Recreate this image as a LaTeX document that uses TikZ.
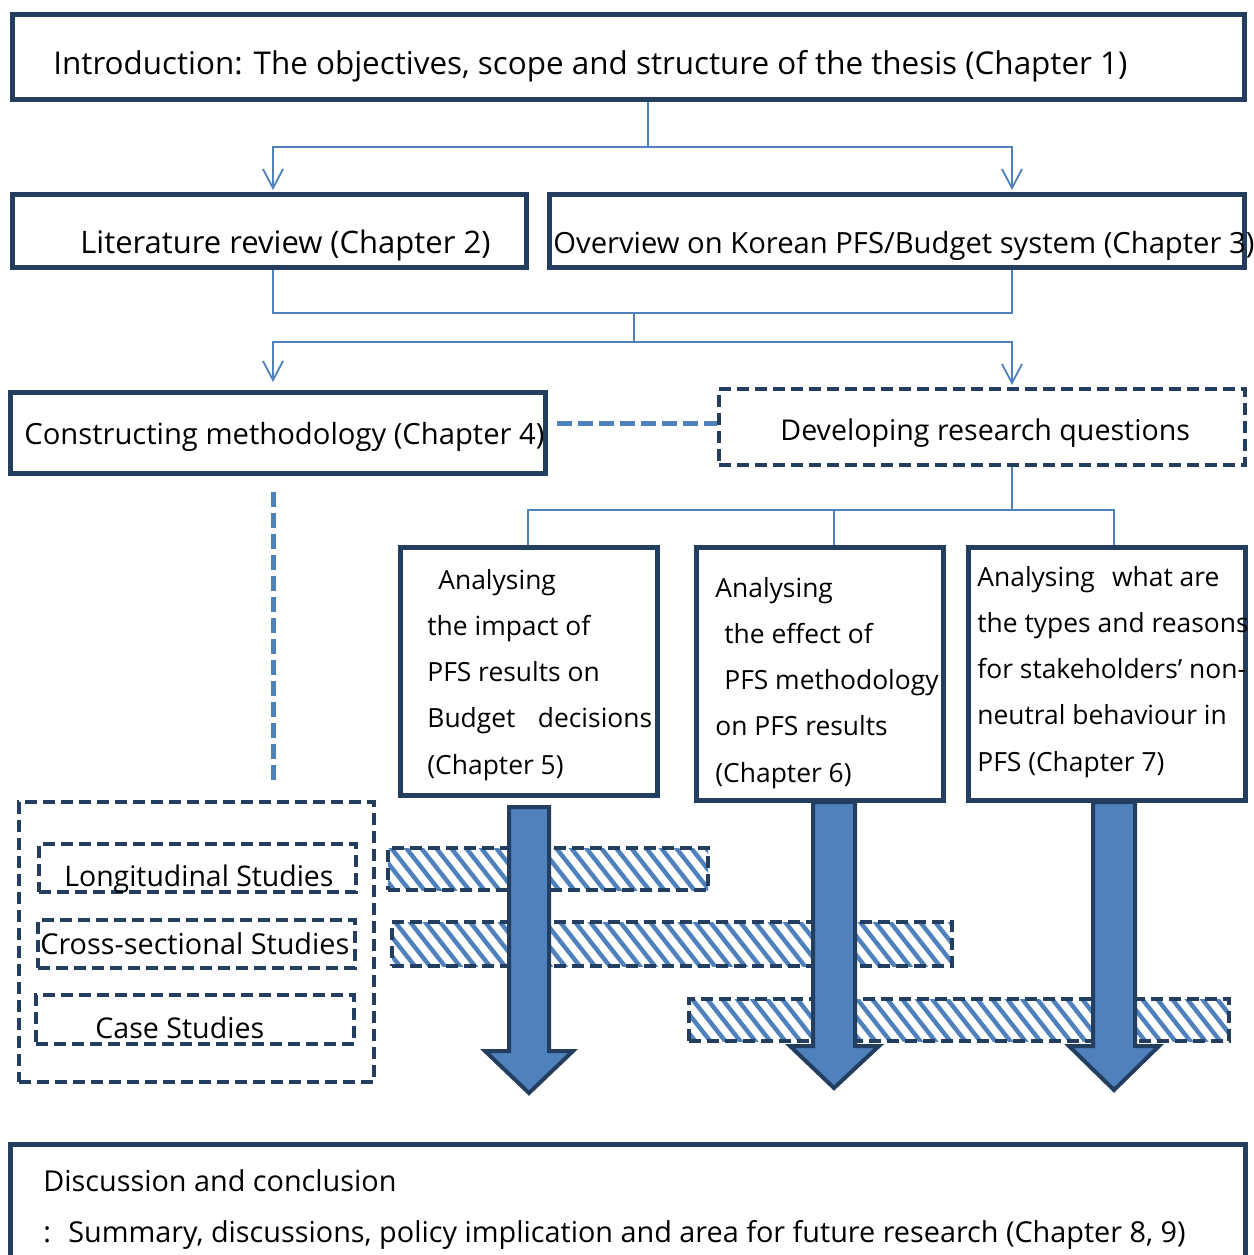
\documentclass[tikz,border=0pt]{standalone}
\usepackage{fontspec}
\setmainfont{Open Sans}
\usetikzlibrary{arrows.meta,calc,fit}
\definecolor{navy}{RGB}{36,62,96}
\definecolor{office}{RGB}{79,129,189}
\begin{document}
\begin{tikzpicture}[x=0.5pt,y=-0.5pt,
  box/.style={draw=navy,line width=2.5pt,fill=white,inner sep=0pt},
  dbox/.style={draw=navy,line width=2pt,dash pattern=on 6pt off 3pt,inner sep=0pt},
  conn/.style={draw=office,line width=0.9pt},
  tip/.style={-{Straight Barb[length=9.5pt,width=10pt,line width=0.9pt]}},
  link/.style={draw=office,line width=2.5pt,dash pattern=on 7.5pt off 3pt},
  txt/.style={anchor=base west,inner sep=0pt,align=left,
    font=\fontsize{#1}{23.1}\selectfont},
  txt/.default=15,
  bigarrow/.style={draw=navy,line width=2pt,fill=office,line join=miter},
  hatch/.style={path picture={
    \foreach \k in {-6,...,40}
      \draw[office,solid,line width=2.2pt]
        ($(path picture bounding box.north west)+(\k*15,-4)$) -- ++(44,56);
  }},
]
\clip (0,0) rectangle (1254,1255);
\fill[white] (0,0) rectangle (1254,1255);

% --- top level boxes ---
\node[box,fit={(12.5,14.5) (1244.5,99.5)}] (intro) {};
\node[txt=15.7] (introtxt) at (53,74) {Introduction: The objectives, scope and structure of the thesis (Chapter 1)};

\node[box,fit={(12.5,194.5) (526.5,267.5)}] (lit) {};
\node[txt=15.5] (littxt) at (80,253) {Literature review (Chapter 2)};
\node[box,fit={(549.5,194.5) (1244.5,267.5)}] (over) {};
\node[txt=14.6] (overtxt) at (553,253) {Overview on Korean PFS/Budget system (Chapter 3)};

\node[box,fit={(10.5,392.5) (545.5,473.5)}] (meth) {};
\node[txt=14.6] (methtxt) at (24,444) {Constructing methodology (Chapter 4)};
\node[dbox,fit={(719,389) (1245,465)}] (rq) {};
\node[txt=14.3] (rqtxt) at (780,440) {Developing research questions};

% --- junctions of the tree connectors ---
\coordinate (j1) at (648,147);
\coordinate (litin) at (273,190);
\coordinate (overin) at (1012,190);
\coordinate (j2) at (634,313);
\coordinate (j3) at (634,342);
\coordinate (methin) at (273,382);
\coordinate (rqin) at (1012,385);
\coordinate (j4) at (1012,510);

\draw[conn] (intro.south -| j1) -- (j1);
\draw[conn,tip] (j1) -| (litin);
\draw[conn,tip] (j1) -| (overin);

\draw[conn] (lit.south -| litin) |- (j2);
\draw[conn] (over.south -| overin) |- (j2);
\draw[conn] (j2) -- (j3);
\draw[conn,tip] (j3) -| (methin);
\draw[conn,tip] (j3) -| (rqin);

% --- research question boxes ---
\node[box,fit={(400.5,547.5) (657.5,795.5)}] (chv) {};
\node[box,fit={(696.5,547.5) (943.5,800.5)}] (chvi) {};
\node[box,fit={(968.5,547.5) (1245.5,800.5)}] (chvii) {};

\node[txt=13.2] (chvtxt) at (427,774) {\hspace*{5.5pt}Analysing\\the impact of\\PFS results on\\Budget\hspace{0.85em}decisions\\(Chapter 5)};
\node[txt=13.2] (chvitxt) at (715,782) {Analysing\\\hspace*{4.5pt}the effect of\\\hspace*{4.5pt}PFS methodology\\on PFS results\\(Chapter 6)};
\node[txt=13.2] (chviitxt) at (977,771) {Analysing\hspace{0.65em}what are\\the types and reasons\\for stakeholders’ non-\\neutral behaviour in\\PFS (Chapter 7)};

\draw[conn] (rq.south -| j4) -- (j4);
\draw[conn] (j4) -| (chv.north -| 528,0);
\draw[conn] (j4) -| (chvi.north -| 834,0);
\draw[conn] (j4) -| (chvii.north -| 1114,0);

% --- methodology link and method boxes ---
\coordinate (linkstart) at (557,423);
\draw[link] (linkstart) -- (rq.west |- linkstart);
\coordinate (mdown) at (273,492);
\coordinate (mend) at (273,785);
\draw[link] (mdown) -- (mend);

\node[dbox,fit={(19,802) (374,1082)}] (methods) {};
\node[dbox,fit={(39,844) (356,892)}] (longi) {};
\node[txt=14.2] (longitxt) at (64,886) {Longitudinal Studies};
\node[dbox,fit={(38,920) (355,968)}] (cross) {};
\node[txt=14.4] (crosstxt) at (40,954) {Cross-sectional Studies};
\node[dbox,fit={(36,995) (354,1044)}] (case) {};
\node[txt=14.3] (casetxt) at (95,1038) {Case Studies};

% --- hatched bars ---
\node[dbox,hatch,fit={(388,848) (708,890)}] (barlongi) {};
\node[dbox,hatch,fit={(392,922) (952,966)}] (barcross) {};
\node[dbox,hatch,fit={(689,999) (1229,1041)}] (barcase) {};

% --- block arrows ---
\draw[bigarrow] (509,807) -- (549,807) -- (549,1051) -- (573,1051) -- (529,1093)
  -- (485,1051) -- (509,1051) -- cycle;
\draw[bigarrow] (813,802) -- (855,802) -- (855,1046) -- (879,1046) -- (834,1088)
  -- (790,1046) -- (813,1046) -- cycle;
\draw[bigarrow] (1093,802) -- (1135,802) -- (1135,1046) -- (1159,1046) -- (1114,1090)
  -- (1069,1046) -- (1093,1046) -- cycle;

% --- conclusion ---
\node[box,fit={(10.5,1144.5) (1245.5,1300)}] (concl) {};
\node[txt=14.4] (concltxt) at (43,1191) {Discussion and conclusion};
\node[txt=14.4] (concltxtb) at (43,1242) {:\hspace{0.6em}Summary, discussions, policy implication and area for future research (Chapter 8, 9)};
\end{tikzpicture}
\end{document}
